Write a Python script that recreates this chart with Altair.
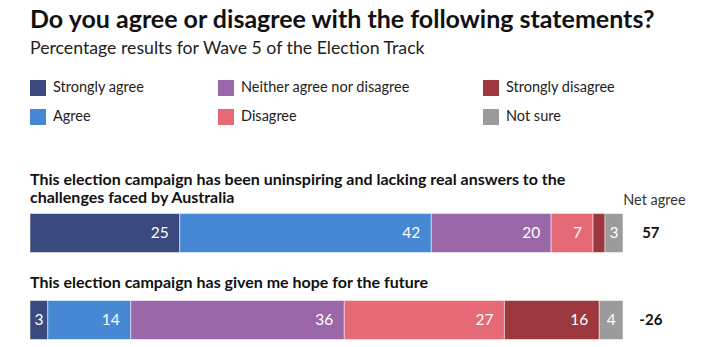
import altair as alt
import pandas as pd

categories = ["Strongly agree", "Agree", "Neither agree nor disagree",
              "Disagree", "Strongly disagree", "Not sure"]
colors = ["#3b4a7e", "#4788d4", "#9a67a9", "#e56a75", "#9c383e", "#9b9b9b"]
statements = [
    "This election campaign has been uninspiring and lacking real answers to the\nchallenges faced by Australia",
    "This election campaign has given me hope for the future",
]
values_s1 = [25, 42, 20, 7, 2, 3]
values_s2 = [3, 14, 36, 27, 16, 4]
net_agree = ["57", "-26"]

FONT = "Lato"

rows = []
for s, vals in zip(statements, [values_s1, values_s2]):
    for i, (c, v) in enumerate(zip(categories, vals)):
        rows.append({"statement": s, "category": c, "value": v, "order": i})
df = pd.DataFrame(rows)
net_df = pd.DataFrame({"statement": statements, "net": net_agree})

color_scale = alt.Scale(domain=categories, range=colors)

xs = alt.Scale(domain=[0, 100])
ys = alt.Scale(domain=statements, range=[19.5, 193.5], paddingInner=0, paddingOuter=0)

base = alt.Chart(df).transform_joinaggregate(
    total="sum(value)", groupby=["statement"]
).transform_calculate(
    pct="datum.value / datum.total * 100"
).transform_stack(
    stack="pct", as_=["x0", "x1"], groupby=["statement"],
    sort=[alt.SortField("order", order="ascending")]
).transform_calculate(
    mid="(datum.x0 + datum.x1) / 2"
)

bars = base.mark_bar(height=39, stroke="white", strokeWidth=0.5).encode(
    x=alt.X("x0:Q", scale=xs, axis=None),
    x2="x1:Q",
    y=alt.Y("statement:N", scale=ys, axis=None),
    color=alt.Color(
        "category:N", scale=color_scale,
        legend=alt.Legend(
            orient="none", legendX=0, legendY=-90, columns=3, title=None,
            symbolType="square", symbolSize=256, symbolStrokeWidth=0,
            labelFontSize=14.5, labelFont=FONT, labelColor="#222222",
            labelOffset=7, columnPadding=73, rowPadding=13, padding=0,
            labelLimit=400,
        ),
    ),
)

seg_big = base.transform_filter("datum.value >= 5").mark_text(
    align="right", baseline="middle", dx=-11, color="white", fontSize=15.5, font=FONT
).encode(
    x=alt.X("x1:Q", scale=xs),
    y=alt.Y("statement:N", scale=ys),
    text="value:Q",
)

seg_small = base.transform_filter("datum.value >= 3 && datum.value < 5").mark_text(
    align="center", baseline="middle", color="white", fontSize=15.5, font=FONT
).encode(
    x=alt.X("mid:Q", scale=xs),
    y=alt.Y("statement:N", scale=ys),
    text="value:Q",
)


def statement_label(idx, dy):
    return alt.Chart(net_df).transform_filter(
        alt.datum.statement == statements[idx]
    ).mark_text(
        align="left", baseline="alphabetic", dy=dy, fontSize=16, fontWeight="bold",
        font=FONT, lineBreak="\n", lineHeight=17.5, color="#111111"
    ).encode(
        x=alt.datum(0),
        y=alt.Y("statement:N", scale=ys),
        text="statement:N",
    )


label1 = statement_label(0, -48)
label2 = statement_label(1, -32)

net = alt.Chart(net_df).mark_text(
    align="center", baseline="middle", fontSize=15, fontWeight="bold", font=FONT,
    color="#111111"
).encode(
    x=alt.datum(104.7),
    y=alt.Y("statement:N", scale=ys),
    text="net:N",
)

header = alt.Chart(net_df).transform_filter(
    alt.datum.statement == statements[0]
).mark_text(
    align="center", baseline="alphabetic", dy=-28, fontSize=14.5, font=FONT,
    color="#333333"
).encode(
    x=alt.datum(105.3),
    y=alt.Y("statement:N", scale=ys),
    text=alt.value("Net agree"),
)

chart = alt.layer(bars, seg_big, seg_small, label1, label2, net, header).properties(
    width=593, height=177,
    autosize=alt.AutoSizeParams(type="none"),
    padding={"left": 30, "top": 170, "right": 86, "bottom": 0},
    title=alt.TitleParams(
        text="Do you agree or disagree with the following statements?",
        subtitle="Percentage results for Wave 5 of the Election Track",
        anchor="start", frame="group", font=FONT, fontSize=25, fontWeight="bold",
        color="#111111", subtitleFont=FONT, subtitleFontSize=17.7,
        subtitleColor="#222222", subtitlePadding=7, offset=22,
    ),
).configure_view(stroke=None)

chart.save("out.html", embed_options={"renderer": "svg", "actions": False})
